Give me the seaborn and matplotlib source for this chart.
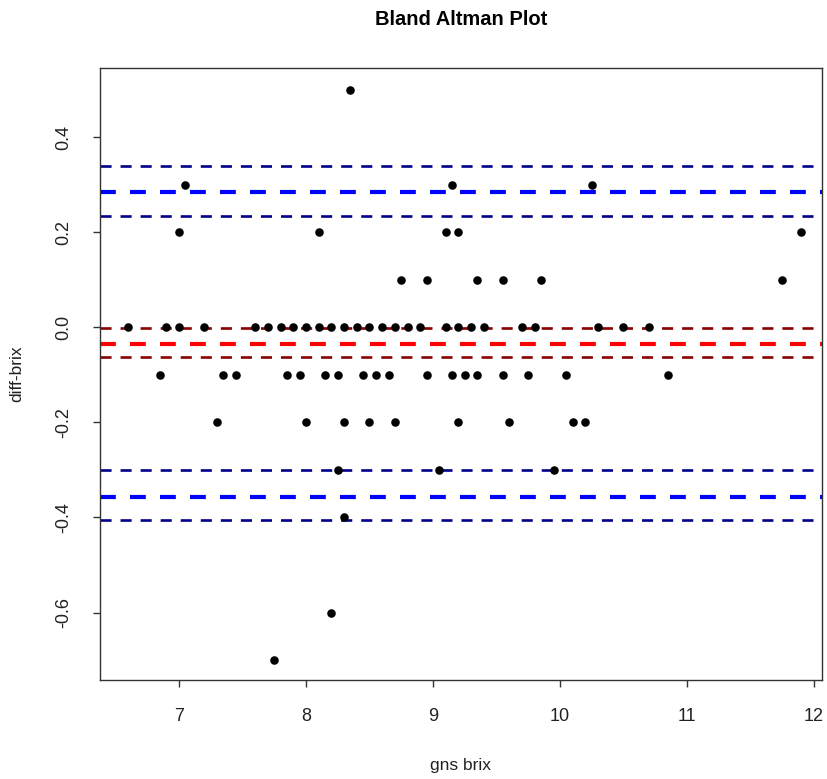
import numpy as np
import pandas as pd
import matplotlib
matplotlib.use("Agg")
import matplotlib.pyplot as plt
import seaborn as sns

# ---- data ----
x_05 = [8.35]
x_03 = [7.05, 9.15, 10.25]
x_02 = [7.0, 8.1, 9.1, 9.2, 11.9]
x_01 = [8.75, 8.95, 9.35, 9.55, 9.85, 11.75]
x_00 = [6.6, 6.9, 7.0, 7.2, 7.6, 7.7, 7.8, 7.9, 8.0, 8.1, 8.2, 8.3, 8.4, 8.5,
        8.6, 8.7, 8.8, 8.9, 9.1, 9.2, 9.3, 9.4, 9.7, 9.8, 10.3, 10.5, 10.7]
x_m01 = [6.85, 7.35, 7.45, 7.85, 7.95, 8.15, 8.25, 8.45, 8.55, 8.65, 8.95,
         9.15, 9.25, 9.35, 9.55, 9.75, 10.05, 10.85]
x_m02 = [7.3, 8.0, 8.3, 8.5, 8.7, 9.2, 9.6, 10.1, 10.2]
x_m03 = [8.25, 9.05, 9.95]
x_m04 = [8.3]
x_m06 = [8.2]
x_m07 = [7.75]

row_groups = [(0.5, x_05), (0.3, x_03), (0.2, x_02), (0.1, x_01), (0.0, x_00),
              (-0.1, x_m01), (-0.2, x_m02), (-0.3, x_m03), (-0.4, x_m04),
              (-0.6, x_m06), (-0.7, x_m07)]

mean_diff = -0.035
mean_ci = [-0.002, -0.063]
upper_loa = 0.284
upper_ci = [0.340, 0.234]
lower_loa = -0.356
lower_ci = [-0.300, -0.406]

x_ticks = [7, 8, 9, 10, 11, 12]
y_ticks = [0.4, 0.2, 0.0, -0.2, -0.4, -0.6]
y_tick_labels = ["0.4", "0.2", "0.0", "-0.2", "-0.4", "-0.6"]

gns = []
diff = []
for yv, xs in row_groups:
    for xv in xs:
        gns.append(xv)
        diff.append(yv)
df = pd.DataFrame({"gns brix": gns, "diff-brix": diff})

sns.set_theme(style="white")
plt.rcParams["font.family"] = ["Liberation Sans", "DejaVu Sans"]
plt.rcParams["axes.unicode_minus"] = False

fig = plt.figure(figsize=(8.27, 7.79), dpi=100)
ax = fig.add_axes([100 / 827, 1 - 680 / 779, 722 / 827, 612 / 779])

sns.scatterplot(data=df, x="gns brix", y="diff-brix", ax=ax, color="black",
                s=38, linewidth=0, zorder=3)

thin_dash = (0, (4.2, 3.4))
thick_dash = (0, (3.8, 3.4))
ax.axhline(mean_diff, color="red", lw=3.0, linestyle=thick_dash, zorder=2)
for v in mean_ci:
    ax.axhline(v, color="#8B0000", lw=1.9, linestyle=thin_dash, zorder=2)
ax.axhline(upper_loa, color="blue", lw=3.0, linestyle=thick_dash, zorder=2)
ax.axhline(lower_loa, color="blue", lw=3.0, linestyle=thick_dash, zorder=2)
for v in upper_ci + lower_ci:
    ax.axhline(v, color="#00008B", lw=1.9, linestyle=thin_dash, zorder=2)

ax.set_xlim(6.378, 12.063)
ax.set_ylim(-0.742, 0.546)
ax.set_xticks(x_ticks)
ax.set_xticklabels([str(t) for t in x_ticks])
ax.set_yticks(y_ticks)
ax.set_yticklabels(y_tick_labels, rotation=90, va="center")

ax.tick_params(axis="both", direction="out", length=5, width=1,
               color="#333333", labelsize=13, labelcolor="#222222",
               bottom=True, left=True, pad=15)
for sp in ax.spines.values():
    sp.set_color("#333333")
    sp.set_linewidth(1.0)

ax.set_xlabel("gns brix", fontsize=12.5, color="#222222", labelpad=24)
ax.set_ylabel("diff-brix", fontsize=12.5, color="#222222", labelpad=22)
ax.set_title("Bland Altman Plot", fontsize=14.5, fontweight="bold",
             color="black", pad=31)

fig.savefig("out.png", dpi=100)
